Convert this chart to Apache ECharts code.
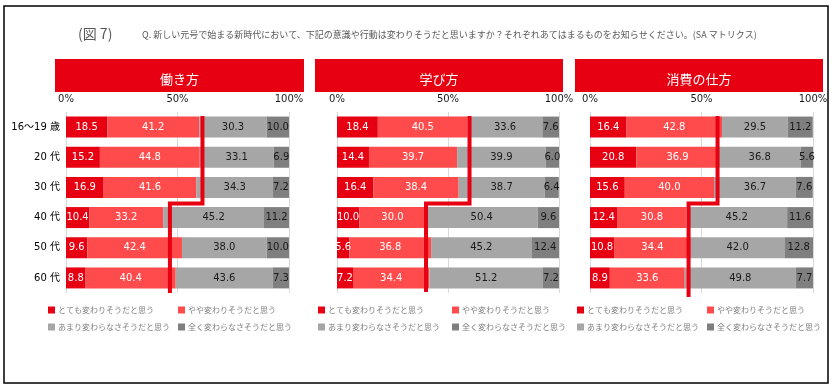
<!DOCTYPE html>
<html>
<head>
<meta charset="utf-8">
<script src="https://cdn.jsdelivr.net/npm/echarts@6/dist/echarts.min.js"></script>
<style>html,body{margin:0;padding:0;background:#fff}#c{width:837px;height:390px}</style>
</head>
<body>
<div id="c"></div>
<script>
// ---- data ----
const categories = ['16～19 歳', '20 代', '30 代', '40 代', '50 代', '60 代'];
const seriesNames = ['とても変わりそうだと思う', 'やや変わりそうだと思う', 'あまり変わらなさそうだと思う', '全く変わらなさそうだと思う'];
const panelTitles = ['働き方', '学び方', '消費の仕方'];
const xTickLabels = ['0%', '50%', '100%'];

const work1 = [18.5, 15.2, 16.9, 10.4, 9.6, 8.8];
const work2 = [41.2, 44.8, 41.6, 33.2, 42.4, 40.4];
const work3 = [30.3, 33.1, 34.3, 45.2, 38.0, 43.6];
const work4 = [10.0, 6.9, 7.2, 11.2, 10.0, 7.3];

const learn1 = [18.4, 14.4, 16.4, 10.0, 5.6, 7.2];
const learn2 = [40.5, 39.7, 38.4, 30.0, 36.8, 34.4];
const learn3 = [33.6, 39.9, 38.7, 50.4, 45.2, 51.2];
const learn4 = [7.6, 6.0, 6.4, 9.6, 12.4, 7.2];

const spend1 = [16.4, 20.8, 15.6, 12.4, 10.8, 8.9];
const spend2 = [42.8, 36.9, 40.0, 30.8, 34.4, 33.6];
const spend3 = [29.5, 36.8, 36.7, 45.2, 42.0, 49.8];
const spend4 = [11.2, 5.6, 7.6, 11.6, 12.8, 7.7];

// annotation step line (x in %, y in row units 0..6)
const stepWork = [[61.2, 0.13], [61.2, 3.03], [46.6, 3.03], [46.6, 6.0]];
const stepLearn = [[59.7, 0.13], [59.7, 3.03], [40.1, 3.03], [40.1, 5.97]];
const stepSpend = [[57.2, 0.13], [57.2, 3.03], [44.2, 3.03], [44.2, 6.13]];

const panels = [
  { title: panelTitles[0], data: [work1, work2, work3, work4], step: stepWork },
  { title: panelTitles[1], data: [learn1, learn2, learn3, learn4], step: stepLearn },
  { title: panelTitles[2], data: [spend1, spend2, spend3, spend4], step: stepSpend }
];

// ---- styles / layout ----
const colors = ['#E60012', '#FF4B4B', '#A6A6A6', '#7F7F7F'];
const labelColors = ['#fff', '#fff', '#1a1a1a', '#1a1a1a'];
const gridLayout = [
  { left: 66, width: 223 },
  { left: 337, width: 222 },
  { left: 590, width: 223 }
];
const headerLayout = [
  { x: 55, w: 249 },
  { x: 315, w: 248 },
  { x: 575, w: 248 }
];
const legendCols = [[48, 178], [318, 452], [577, 707]];
const legendRows = [306, 323];
const numFont = 'DejaVu Sans, Noto Sans CJK JP, sans-serif';
const jpFont = 'Noto Sans CJK JP, sans-serif';

const grids = [], xAxes = [], yAxes = [], series = [], legends = [], graphics = [];

graphics.push({
  type: 'rect', shape: { x: 4, y: 6, width: 824, height: 377 },
  style: { fill: 'none', stroke: '#000', lineWidth: 1.5 }, z: 0
});
graphics.push({
  type: 'text', x: 78, y: 34,
  style: { text: '(図 7)', fill: '#595959', font: '14px ' + jpFont, textVerticalAlign: 'middle' }
});
graphics.push({
  type: 'text', x: 142, y: 35,
  style: { text: 'Q. 新しい元号で始まる新時代において、下記の意識や行動は変わりそうだと思いますか？それぞれあてはまるものをお知らせください。(SA マトリクス)',
    fill: '#595959', font: '9px ' + jpFont, textVerticalAlign: 'middle' }
});

panels.forEach((p, i) => {
  const g = gridLayout[i];
  grids.push({ left: g.left, width: g.width, top: 112, height: 181 });
  xAxes.push({
    type: 'value', gridIndex: i, min: 0, max: 100, interval: 50, position: 'top',
    axisLine: { show: false }, axisTick: { show: false },
    splitLine: { show: true, lineStyle: { color: '#D9D9D9', width: 1 } },
    axisLabel: {
      margin: 8, fontSize: 10, fontFamily: numFont, color: '#1a1a1a',
      formatter: v => xTickLabels[v / 50]
    }
  });
  yAxes.push({
    type: 'category', gridIndex: i, data: categories, inverse: true,
    axisLine: { show: false }, axisTick: { show: false },
    axisLabel: { show: i === 0, margin: 6, fontSize: 10, fontFamily: numFont, color: '#000' }
  });
  yAxes.push({
    type: 'value', gridIndex: i, min: 0, max: 6, inverse: true, show: false
  });
  p.data.forEach((arr, k) => {
    series.push({
      type: 'bar', name: seriesNames[k], xAxisIndex: i, yAxisIndex: 2 * i,
      stack: 'p' + i, data: arr, barWidth: 21,
      itemStyle: { color: colors[k] },
      label: {
        show: true, position: 'inside', fontSize: 10, fontFamily: numFont,
        color: labelColors[k], formatter: d => d.value.toFixed(1)
      },
      emphasis: { disabled: true }
    });
  });
  series.push({
    type: 'line', xAxisIndex: i, yAxisIndex: 2 * i + 1, data: p.step,
    symbol: 'none', clip: false, z: 10,
    lineStyle: { color: '#E60012', width: 4, join: 'miter' }
  });
  const h = headerLayout[i];
  graphics.push({
    type: 'rect', shape: { x: h.x, y: 59, width: h.w, height: 33 },
    style: { fill: '#E60012' }
  });
  graphics.push({
    type: 'text', x: h.x + h.w / 2, y: 79,
    style: { text: p.title, fill: '#fff', font: '13px ' + jpFont, textAlign: 'center', textVerticalAlign: 'middle' }
  });
  seriesNames.forEach((nm, k) => {
    legends.push({
      data: [nm], left: legendCols[i][k % 2], top: legendRows[Math.floor(k / 2)],
      padding: 0, itemWidth: 7, itemHeight: 7, icon: 'rect', selectedMode: false,
      textStyle: { fontSize: 8, fontFamily: jpFont, color: '#7F7F7F', padding: [0, 0, 0, -2] }
    });
  });
});

const chart = echarts.init(document.getElementById('c'), null, { renderer: 'canvas' });
chart.setOption({
  animation: false,
  grid: grids, xAxis: xAxes, yAxis: yAxes, series: series, legend: legends,
  graphic: graphics
});
</script>
</body>
</html>
